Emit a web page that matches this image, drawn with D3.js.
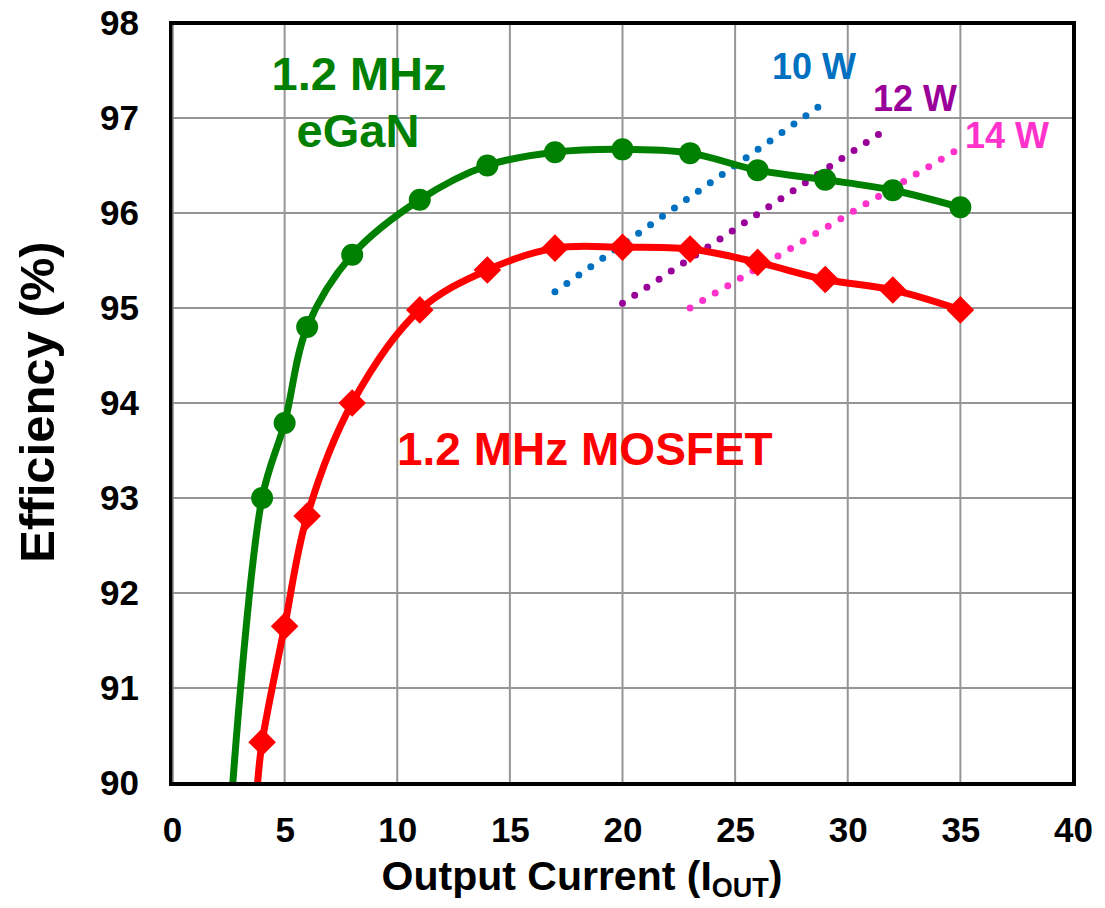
<!DOCTYPE html>
<html>
<head>
<meta charset="utf-8">
<script src="https://cdn.jsdelivr.net/npm/d3@7.9.0/dist/d3.min.js"></script>
<style>
  body { margin: 0; background: #fff; }
  text { font-family: Arial, "Liberation Sans", sans-serif; font-weight: bold; }
</style>
</head>
<body>
<svg id="chart" width="1105" height="908"></svg>
<script>
// Output current (A) where markers sit
const currents = [4, 5, 6, 8, 11, 14, 17, 20, 23, 26, 29, 32, 35];
// Efficiency (%)
const eganEff = [93.0, 93.79, 94.8, 95.56, 96.14, 96.5, 96.64, 96.67, 96.63, 96.45, 96.35, 96.24, 96.06];
const mosfetEff = [90.43, 91.65, 92.81, 94.0, 94.98, 95.4, 95.63, 95.64, 95.62, 95.48, 95.3, 95.19, 94.98];
// where the smoothed curves leave the bottom of the plot (no marker there)
const eganStart = [2.7, 90];
const mosfetStart = [3.8, 90];

// dotted loss lines: [x0, y0, x1, y1]
const lossLabels = ['10 W', '12 W', '14 W'];
const lossLines = [
  [17.0, 95.17, 28.72, 97.12],
  [20.0, 95.05, 31.38, 96.83],
  [23.0, 95.0, 34.75, 96.65]
];
const lossColors = ['#0070C0', '#990099', '#FF33CC'];

const xTicks = [0, 5, 10, 15, 20, 25, 30, 35, 40];
const yTicks = [90, 91, 92, 93, 94, 95, 96, 97, 98];

const svg = d3.select('#chart');
const plotL = 172, plotR = 1073, plotT = 23, plotB = 783;

const x = d3.scaleLinear().domain([0, 40]).range([plotL, plotR]);
const y = d3.scaleLinear().domain([90, 98]).range([plotB, plotT]);

// grid
svg.append('g')
  .selectAll('line')
  .data(xTicks.slice(1, -1))
  .join('line')
  .attr('x1', d => x(d)).attr('x2', d => x(d))
  .attr('y1', plotT).attr('y2', plotB)
  .attr('stroke', '#959595').attr('stroke-width', 2);

svg.append('g')
  .selectAll('line')
  .data(yTicks.slice(1, -1))
  .join('line')
  .attr('x1', plotL).attr('x2', plotR)
  .attr('y1', d => y(d)).attr('y2', d => y(d))
  .attr('stroke', '#959595').attr('stroke-width', 2);

// axes labels via d3 axes, then strip lines
const xAxis = svg.append('g')
  .attr('transform', `translate(0,${plotB})`)
  .call(d3.axisBottom(x).tickValues(xTicks).tickSize(0).tickPadding(34));
xAxis.select('.domain').remove();
xAxis.selectAll('text').attr('font-size', 35).attr('fill', '#000')
  .attr('font-family', 'Arial, "Liberation Sans", sans-serif');

const yAxis = svg.append('g')
  .attr('transform', `translate(${plotL},0)`)
  .call(d3.axisLeft(y).tickValues(yTicks).tickSize(0).tickPadding(33));
yAxis.select('.domain').remove();
yAxis.selectAll('text').attr('font-size', 35).attr('fill', '#000')
  .attr('font-family', 'Arial, "Liberation Sans", sans-serif');

// clip for curves
svg.append('clipPath').attr('id', 'plotclip')
  .append('rect')
  .attr('x', plotL).attr('y', plotT)
  .attr('width', plotR - plotL).attr('height', plotB - plotT);

// loss lines (dotted)
const lossG = svg.append('g');
lossLines.forEach((l, i) => {
  lossG.append('line')
    .attr('x1', x(l[0])).attr('y1', y(l[1]))
    .attr('x2', x(l[2])).attr('y2', y(l[3]))
    .attr('stroke', lossColors[i])
    .attr('stroke-width', 7)
    .attr('stroke-linecap', 'round')
    .attr('stroke-dasharray', '0 14.6');
});

const line = d3.line()
  .x(d => x(d[0]))
  .y(d => y(d[1]))
  .curve(d3.curveCatmullRom.alpha(0.5));

function drawSeries(start, eff, color, marker) {
  const pts = [start].concat(currents.map((c, i) => [c, eff[i]]));
  svg.append('path')
    .datum(pts)
    .attr('clip-path', 'url(#plotclip)')
    .attr('d', line)
    .attr('fill', 'none')
    .attr('stroke', color)
    .attr('stroke-width', 7);

  const g = svg.append('g');
  const data = currents.map((c, i) => [c, eff[i]]);
  if (marker === 'circle') {
    g.selectAll('circle').data(data).join('circle')
      .attr('cx', d => x(d[0])).attr('cy', d => y(d[1]))
      .attr('r', 11).attr('fill', color);
  } else {
    g.selectAll('path').data(data).join('path')
      .attr('d', d3.symbol(d3.symbolSquare, 380))
      .attr('transform', d => `translate(${x(d[0])},${y(d[1])}) rotate(45)`)
      .attr('fill', color);
  }
}

drawSeries(mosfetStart, mosfetEff, '#FF0000', 'diamond');
drawSeries(eganStart, eganEff, '#008000', 'circle');

// frame
svg.append('rect')
  .attr('x', plotL - 1).attr('y', plotT)
  .attr('width', plotR - plotL + 2).attr('height', plotB - plotT + 1)
  .attr('fill', 'none')
  .attr('stroke', '#000').attr('stroke-width', 4);
svg.append('line')
  .attr('x1', plotL + 1).attr('x2', plotL + 1)
  .attr('y1', plotT + 2).attr('y2', plotB - 1)
  .attr('stroke', '#888').attr('stroke-width', 1.5);

// annotations
svg.append('text').attr('x', 359).attr('y', 90).attr('text-anchor', 'middle')
  .attr('font-size', 47).attr('fill', '#008000').text('1.2 MHz');
svg.append('text').attr('x', 358).attr('y', 147).attr('text-anchor', 'middle')
  .attr('font-size', 47).attr('fill', '#008000').text('eGaN');
svg.append('text').attr('x', 397).attr('y', 465)
  .attr('font-size', 46).attr('fill', '#FF0000').text('1.2 MHz MOSFET');

const lossPos = [[772, 79], [873, 111], [965, 148]];
lossLabels.forEach((t, i) => {
  svg.append('text').attr('x', lossPos[i][0]).attr('y', lossPos[i][1])
    .attr('font-size', 36).attr('fill', lossColors[i]).text(t);
});

// axis titles
const xt = svg.append('text').attr('x', 582).attr('y', 890).attr('text-anchor', 'middle')
  .attr('font-size', 41).attr('fill', '#000');
xt.append('tspan').text('Output Current (I');
xt.append('tspan').attr('font-size', 27).attr('dy', 7).text('OUT');
xt.append('tspan').attr('dy', -7).text(')');

svg.append('text')
  .attr('transform', 'translate(54,402) rotate(-90)')
  .attr('text-anchor', 'middle')
  .attr('font-size', 49).attr('fill', '#000')
  .text('Efficiency (%)');
</script>
</body>
</html>
